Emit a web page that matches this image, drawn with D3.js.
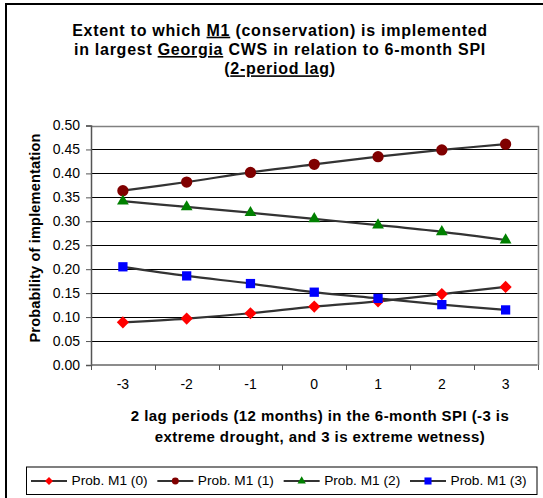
<!DOCTYPE html>
<html>
<head>
<meta charset="utf-8">
<script src="https://cdn.jsdelivr.net/npm/d3@7"></script>
<style>
  html, body { margin: 0; padding: 0; background: #fff; }
  svg { display: block; font-family: Arial, "Liberation Sans", sans-serif; }
</style>
</head>
<body>
<svg id="chart" width="543" height="498"></svg>
<script>
const categories = ["-3", "-2", "-1", "0", "1", "2", "3"];
const seriesNames = ["Prob. M1 (0)", "Prob. M1 (1)", "Prob. M1 (2)", "Prob. M1 (3)"];
const prob0 = [0.089, 0.097, 0.108, 0.122, 0.133, 0.148, 0.163];
const prob1 = [0.364, 0.382, 0.402, 0.419, 0.435, 0.449, 0.461];
const prob2 = [0.342, 0.330, 0.318, 0.305, 0.292, 0.278, 0.261];
const prob3 = [0.205, 0.186, 0.170, 0.152, 0.139, 0.126, 0.115];
const yTicks = [0, 0.05, 0.10, 0.15, 0.20, 0.25, 0.30, 0.35, 0.40, 0.45, 0.50];
const titleLines = [
  [["Extent to which ", false], ["M1", true], [" (conservation) is implemented", false]],
  [["in largest ", false], ["Georgia", true], [" CWS in relation to 6-month SPI", false]],
  [["(", false], ["2-period lag", true], [")", false]]
];
const xTitleLines = ["2 lag periods (12 months) in the 6-month SPI (-3 is", "extreme drought, and 3 is extreme wetness)"];
const yTitle = "Probability of implementation";

const seriesStyle = [
  { color: "#FF0000", symbol: d3.symbolDiamond2, size: 95, lsize: 40 },
  { color: "#800000", symbol: d3.symbolCircle, size: 100, lsize: 38 },
  { color: "#008000", symbol: d3.symbolTriangle, size: 60, lsize: 30 },
  { color: "#0000FF", symbol: d3.symbolSquare, size: 86, lsize: 50 }
];
const seriesData = [prob0, prob1, prob2, prob3];

// stretch a text element's letter spacing so its width matches a target
function fitSpacing(sel, target) {
  const node = sel.node();
  const w = node.getComputedTextLength();
  const n = node.textContent.length;
  const ls = Math.max(-0.5, Math.min(2, (target - w) / Math.max(1, n - 1)));
  return ls;
}

const svg = d3.select("#chart");
svg.append("rect").attr("x", 0).attr("y", 0).attr("width", 543).attr("height", 498).attr("fill", "#fff");
// outer frame (extends past the image on right/bottom)
svg.append("rect").attr("x", 6).attr("y", 4).attr("width", 600).attr("height", 600)
  .attr("fill", "none").attr("stroke", "#000").attr("stroke-width", 2);

const plot = { left: 91, right: 537.5, top: 125.5, bottom: 365 };
const x = d3.scaleBand().domain(categories).range([plot.left, plot.right]).padding(0);
const y = d3.scaleLinear().domain([0, 0.5]).range([plot.bottom, plot.top]);

// gridlines
svg.append("g").selectAll("line").data(yTicks.filter(t => t > 0 && t < 0.5)).join("line")
  .attr("x1", plot.left).attr("x2", plot.right)
  .attr("y1", d => Math.round(y(d)) + 0.5).attr("y2", d => Math.round(y(d)) + 0.5)
  .attr("stroke", "#000").attr("stroke-width", 1);

// plot border (top/right)
svg.append("path")
  .attr("d", `M${plot.left},${Math.round(plot.top)+0.5}H${Math.round(plot.right)+0.5}V${plot.bottom}`)
  .attr("fill", "none").attr("stroke", "#808080").attr("stroke-width", 1.5);

// y axis
const yAxis = d3.axisLeft(y).tickValues(yTicks).tickFormat(d3.format(".2f")).tickSize(5).tickPadding(6);
const gy = svg.append("g").attr("transform", `translate(${plot.left},0)`).call(yAxis);
gy.select(".domain").attr("stroke", "#555").attr("stroke-width", 1.5);
gy.selectAll(".tick line").attr("stroke", "#555");
gy.selectAll("text").attr("font-size", "14px").attr("fill", "#000").attr("font-family", "Arial, 'Liberation Sans', sans-serif");

// x axis
const gx = svg.append("g").attr("transform", `translate(0,${plot.bottom})`);
gx.append("line").attr("x1", plot.left).attr("x2", plot.right).attr("y1", 0).attr("y2", 0)
  .attr("stroke", "#666").attr("stroke-width", 1.5);
const boundaries = categories.map(c => x(c)).concat([x(categories[categories.length - 1]) + x.bandwidth()]);
gx.selectAll("line.tick").data(boundaries).join("line").attr("class", "tick")
  .attr("x1", d => Math.round(d) + 0.5).attr("x2", d => Math.round(d) + 0.5)
  .attr("y1", 0).attr("y2", 5).attr("stroke", "#555").attr("stroke-width", 1);
gx.selectAll("text").data(categories).join("text")
  .attr("x", d => x(d) + x.bandwidth() / 2).attr("y", 20.5)
  .attr("text-anchor", "middle").attr("dominant-baseline", "middle")
  .attr("font-size", "14px").text(d => d);

// x title
const xt = svg.append("g").selectAll("text").data(xTitleLines).join("text")
  .attr("x", 320).attr("y", (d, i) => 421 + i * 20.7)
  .attr("text-anchor", "middle").attr("font-weight", "bold").attr("font-size", "15px")
  .text(d => d);
const xls = fitSpacing(d3.select(xt.nodes()[0]), 378);
xt.attr("letter-spacing", xls + "px");

// y title
const yt = svg.append("text").attr("transform", "translate(40,238) rotate(-90)")
  .attr("text-anchor", "middle").attr("font-weight", "bold").attr("font-size", "14.6px")
  .text(yTitle);
yt.attr("letter-spacing", fitSpacing(yt, 209) + "px");

// chart title
const tg = svg.append("g");
const titleNodes = [];
titleLines.forEach((parts, i) => {
  const t = tg.append("text").attr("x", 280).attr("y", 35.7 + i * 19.3)
    .attr("text-anchor", "middle").attr("font-weight", "bold").attr("font-size", "16px");
  parts.forEach(([s, u]) => {
    const ts = t.append("tspan").text(s);
    if (u) ts.attr("text-decoration", "underline");
  });
  titleNodes.push(t);
});
const tls = fitSpacing(titleNodes[0], 415);
titleNodes.forEach(t => t.attr("letter-spacing", tls + "px"));

// series lines + markers
const line = d3.line().x((d, i) => x(categories[i]) + x.bandwidth() / 2).y(d => y(d))
  .curve(d3.curveCatmullRom.alpha(0.5));
seriesData.forEach((vals, s) => {
  svg.append("path").attr("d", line(vals)).attr("fill", "none")
    .attr("stroke", "#333").attr("stroke-width", 2.2);
});
seriesData.forEach((vals, s) => {
  const st = seriesStyle[s];
  svg.append("g").selectAll("path").data(vals).join("path")
    .attr("transform", (d, i) => `translate(${x(categories[i]) + x.bandwidth() / 2},${y(d)})`)
    .attr("d", d3.symbol().type(st.symbol).size(st.size))
    .attr("fill", st.color);
});

// legend
const lg = svg.append("g");
lg.append("rect").attr("x", 26.5).attr("y", 467).attr("width", 510.5).attr("height", 27.5)
  .attr("fill", "#fff").attr("stroke", "#000").attr("stroke-width", 1);
const legendX = d3.scalePoint().domain(seriesNames).range([31, 410]);
seriesNames.forEach((name, s) => {
  const st = seriesStyle[s];
  const g = lg.append("g").attr("transform", `translate(${legendX(name)},481)`);
  g.append("line").attr("x1", 0).attr("x2", 36).attr("y1", 0).attr("y2", 0)
    .attr("stroke", "#333").attr("stroke-width", 2.2);
  g.append("path").attr("transform", "translate(18,0)")
    .attr("d", d3.symbol().type(st.symbol).size(st.lsize)).attr("fill", st.color);
  const t = g.append("text").attr("x", 40.5).attr("y", 0).attr("dominant-baseline", "middle")
    .attr("font-size", "13.7px").text(name);
});
</script>
</body>
</html>
